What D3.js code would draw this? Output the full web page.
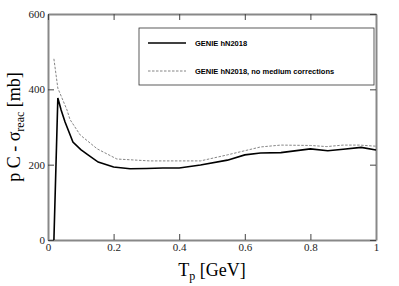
<!DOCTYPE html>
<html>
<head>
<meta charset="utf-8">
<script src="https://cdn.jsdelivr.net/npm/d3@7"></script>
<style>
  body { margin: 0; background: #fff; }
  .tick text { font-family: "Liberation Serif", serif; font-size: 11px; fill: #222; }
  .legend text { font-family: "Liberation Sans", Arial, sans-serif; font-size: 7.5px; font-weight: bold; }
</style>
</head>
<body>
<div id="graph"></div>
<script>
// GENIE hN2018
const tpSolid = [0.018, 0.03, 0.04, 0.052, 0.076, 0.1, 0.122, 0.153, 0.2, 0.25, 0.3, 0.35, 0.4, 0.465, 0.547, 0.6, 0.648, 0.71, 0.8, 0.853, 0.9, 0.955, 1.0];
const sigSolid = [0, 377, 345, 313, 260, 240, 226, 207, 194, 189, 190, 191, 191, 199, 212, 226, 231, 232, 242, 237, 241, 246, 239];

// GENIE hN2018, no medium corrections
const tpDash = [0.018, 0.03, 0.058, 0.067, 0.098, 0.15, 0.21, 0.31, 0.4, 0.465, 0.547, 0.648, 0.71, 0.8, 0.85, 0.9, 0.95, 1.0];
const sigDash = [481, 403, 345, 320, 279, 242, 215, 210, 210, 210, 226, 247, 252, 251, 248, 252, 252, 249];

const xTicks = [0, 0.2, 0.4, 0.6, 0.8, 1];
const yTicks = [0, 200, 400, 600];
const legendLabels = ["GENIE hN2018", "GENIE hN2018, no medium corrections"];

const w = 399, h = 286;
const margin = { top: 14, right: 23, bottom: 46, left: 48 };
const innerWidth = w - margin.left - margin.right;
const innerHeight = h - margin.top - margin.bottom;

const svg = d3.select("#graph").append("svg")
    .attr("width", w)
    .attr("height", h);

const g = svg.append("g")
    .attr("transform", `translate(${margin.left},${margin.top})`);

const xScale = d3.scaleLinear().domain([0, 1]).range([0, innerWidth]);
const yScale = d3.scaleLinear().domain([0, 600]).range([innerHeight, 0]);

// frame axes, ticks pointing inwards
const axisColor = "#888";
function styleAxis(sel) {
    sel.select(".domain").attr("stroke", axisColor).attr("stroke-width", 2);
    sel.selectAll(".tick line").attr("stroke", "#444");
}

g.append("g")
    .attr("transform", `translate(0,${innerHeight})`)
    .call(d3.axisBottom(xScale).tickValues(xTicks).tickFormat(d3.format("")).tickSizeInner(-6).tickSizeOuter(0).tickPadding(3))
    .call(styleAxis);

g.append("g")
    .call(d3.axisLeft(yScale).tickValues(yTicks).tickSizeInner(-6).tickSizeOuter(0).tickPadding(3))
    .call(styleAxis);

g.append("g")
    .call(d3.axisTop(xScale).tickValues(xTicks).tickSizeInner(-6).tickSizeOuter(0))
    .call(styleAxis)
    .call(a => a.selectAll(".tick text").remove());

g.append("g")
    .attr("transform", `translate(${innerWidth},0)`)
    .call(d3.axisRight(yScale).tickValues(yTicks).tickSizeInner(-6).tickSizeOuter(0))
    .call(styleAxis)
    .call(a => a.selectAll(".tick text").remove());

// curves
const line = d3.line().x(d => xScale(d[0])).y(d => yScale(d[1]));

g.append("path")
    .attr("d", line(d3.zip(tpDash, sigDash)))
    .attr("fill", "none")
    .attr("stroke", "#777")
    .attr("stroke-width", 0.9)
    .attr("stroke-dasharray", "2.5,1.5");

g.append("path")
    .attr("d", line(d3.zip(tpSolid, sigSolid)))
    .attr("fill", "none")
    .attr("stroke", "#000")
    .attr("stroke-width", 1.6);

// legend
const legend = svg.append("g").attr("class", "legend");
legend.append("rect")
    .attr("x", 139).attr("y", 28)
    .attr("width", 235).attr("height", 57)
    .attr("fill", "#fff")
    .attr("stroke", "#333")
    .attr("stroke-width", 0.8);

const legY = [43, 71];
legend.append("line")
    .attr("x1", 148).attr("x2", 186).attr("y1", legY[0]).attr("y2", legY[0])
    .attr("stroke", "#000").attr("stroke-width", 1.6);
legend.append("line")
    .attr("x1", 148).attr("x2", 186).attr("y1", legY[1]).attr("y2", legY[1])
    .attr("stroke", "#777").attr("stroke-width", 0.9).attr("stroke-dasharray", "2.5,1.5");

legendLabels.forEach((t, i) => {
    legend.append("text")
        .attr("x", 195).attr("y", legY[i])
        .attr("dy", "0.35em")
        .text(t);
});

// axis titles
const xt = svg.append("text")
    .attr("x", margin.left + innerWidth / 2)
    .attr("y", 276)
    .attr("text-anchor", "middle")
    .style("font-family", "Liberation Serif, serif")
    .style("font-size", "18px");
xt.append("tspan").text("T");
xt.append("tspan").attr("dy", 4).style("font-size", "12px").text("p");
xt.append("tspan").attr("dy", -4).text(" [GeV]");

const yt = svg.append("text")
    .attr("transform", `translate(20,${margin.top + innerHeight / 2}) rotate(-90)`)
    .attr("text-anchor", "middle")
    .style("font-family", "Liberation Serif, serif")
    .style("font-size", "18px");
yt.append("tspan").text("p C - σ");
yt.append("tspan").attr("dy", 4).style("font-size", "12px").text("reac");
yt.append("tspan").attr("dy", -4).text(" [mb]");
</script>
</body>
</html>
